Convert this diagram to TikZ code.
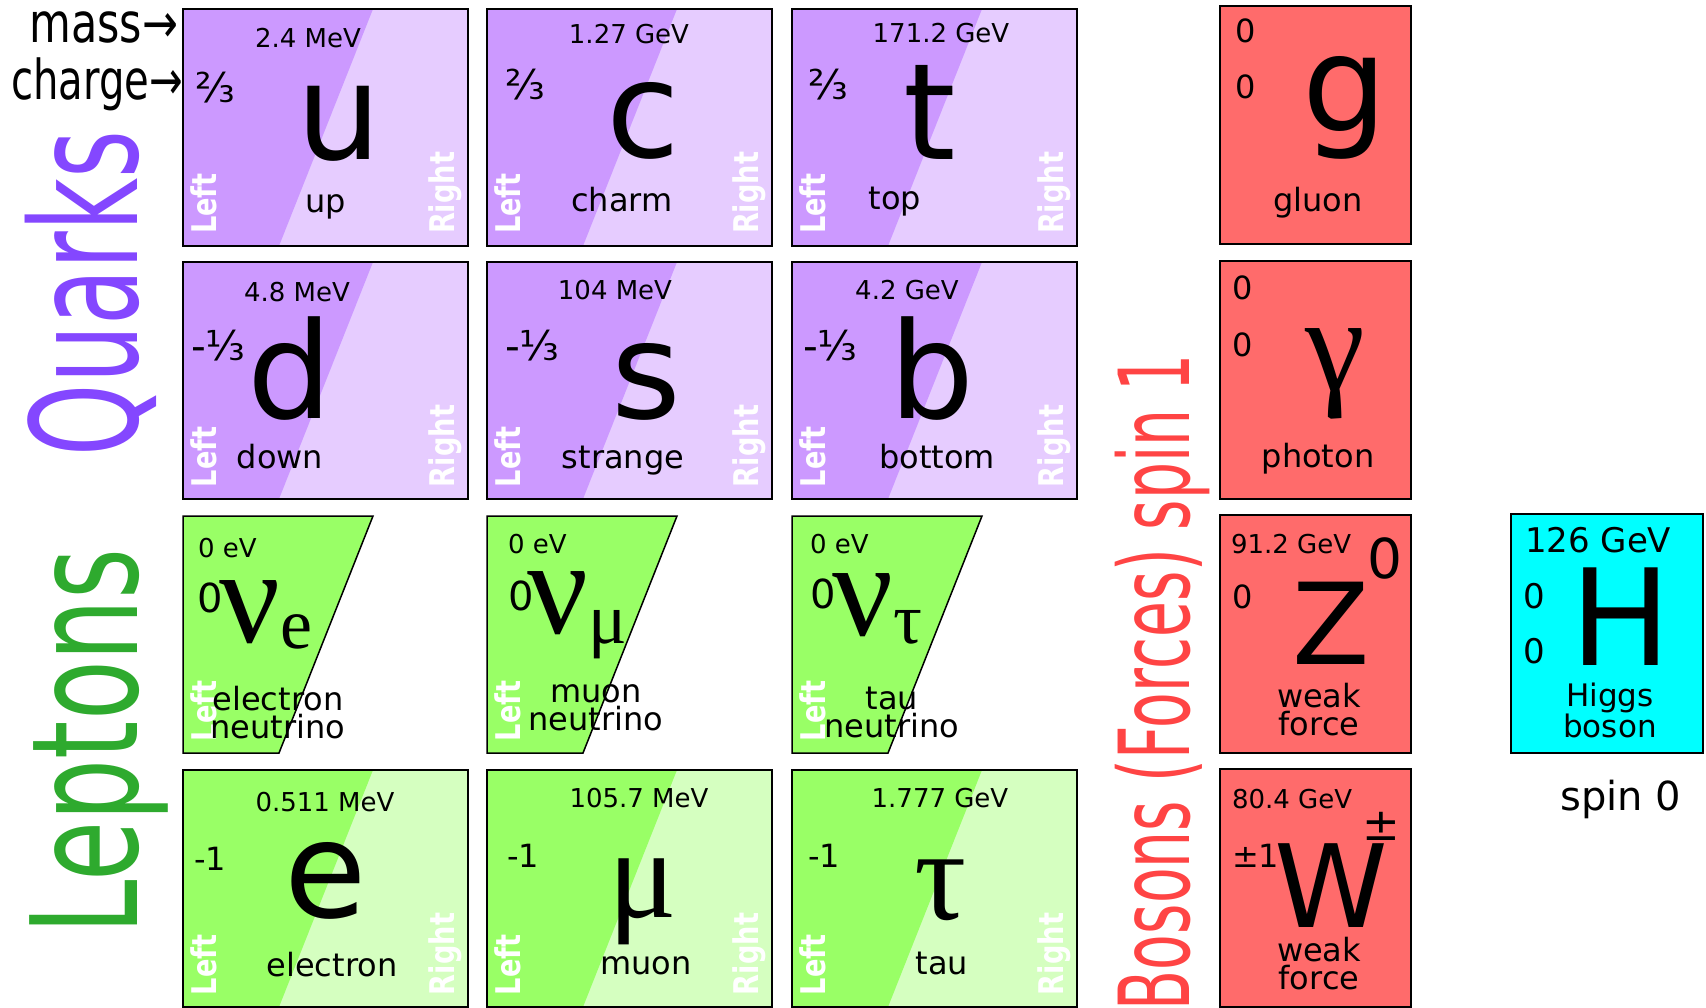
\documentclass[tikz,border=0pt]{standalone}
\usepackage{fontspec}
\setmainfont{DejaVu Sans}
\newfontfamily\grk{Liberation Serif}
\definecolor{qdark}{HTML}{CC99FF}
\definecolor{qlight}{HTML}{E6CCFF}
\definecolor{ldark}{HTML}{99FF66}
\definecolor{llight}{HTML}{D5FFC0}
\definecolor{bosonc}{HTML}{FF6B6B}
\definecolor{higgsc}{HTML}{00FFFF}
\definecolor{quarkc}{HTML}{8447FF}
\definecolor{leptonc}{HTML}{2EAA2E}
\definecolor{bosonl}{HTML}{FF4444}
\tikzset{
  every node/.style={inner sep=0pt, outer sep=0pt},
  frame/.style={draw=black, line width=1.5pt, minimum width=285pt, minimum height=237pt, anchor=north west},
  bframe/.style={draw=black, line width=1.5pt, fill=bosonc, minimum width=191pt, minimum height=238pt, anchor=north west},
  mass/.style={font=\fontsize{26}{26}\selectfont, anchor=base},
  massw/.style={font=\fontsize{26}{26}\selectfont, anchor=base west},
  chg/.style={font=\fontsize{32}{32}\selectfont, anchor=base west},
  nuchg/.style={font=\fontsize{40}{40}\selectfont, anchor=base west},
  frac/.style={font=\fontsize{41}{41}\selectfont, anchor=base west},
  sym/.style={font=\fontsize{134}{134}\selectfont, anchor=base},
  gsym/.style={font=\grk\fontsize{135}{135}\selectfont, anchor=base},
  nusym/.style={font=\grk\fontsize{135}{135}\selectfont, anchor=base west},
  pname/.style={font=\fontsize{32}{28}\selectfont, anchor=base},
  hand/.style={font=\bfseries\fontsize{34}{34}\selectfont, text=white, rotate=90, anchor=base west},
  biglab/.style={font=\fontsize{148}{148}\selectfont, rotate=90, anchor=base west},
}
\newcommand\hsq[1]{\scalebox{0.8}[1]{#1}}
\newcommand\fermbox[5]{%
  \fill[#5] (#2,#3) rectangle ++(285,237);
  \fill[#4] (#2,#3) -- ++(190,0) -- ++(-94,237) -- ++(-96,0) -- cycle;
  \node[frame] (#1) at (#2,#3) {};
  \node[hand] (#1-l) at ({#2+33},{#3+225}) {\hsq{Left}};
  \node[hand] (#1-r) at ({#2+271},{#3+225}) {\hsq{Right}};
}
\newcommand\nubox[3]{%
  \draw[fill=ldark, line width=1.5pt] (#2,#3) -- ++(190,0) -- ++(-94,237) -- ++(-96,0) -- cycle;
  \node[hand] (#1-l) at ({#2+33},{#3+225}) {\hsq{Left}};
}
\begin{document}
\begin{tikzpicture}[x=1pt,y=-1pt]
\useasboundingbox (0,0) rectangle (1706,1008);

% side labels
\node[biglab, text=quarkc] (quarks) at (137,456) {\scalebox{0.62}[1]{Quarks}};
\node[biglab, text=leptonc] (leptons) at (137,934) {\scalebox{0.66}[1]{Leptons}};
\node[biglab, text=bosonl, font=\fontsize{98}{98}\selectfont] (bosons) at (1189,1010) {\scalebox{0.595}[1]{Bosons (Forces) spin 1}};
\node[font=\fontsize{55}{55}\selectfont, anchor=base east] (masslab) at (178,43) {\scalebox{0.78}[1]{mass→}};
\node[font=\fontsize{55}{55}\selectfont, anchor=base east] (chglab) at (183,100) {\scalebox{0.73}[1]{charge→}};

% row 1 quarks
\fermbox{u}{183}{9}{qdark}{qlight}
\node[mass] (u-m) at (308,48) {2.4 MeV};
\node[frac] (u-q) at (195,103) {⅔};
\node[sym] (u-s) at (339,160) {u};
\node[pname] (u-n) at (326,213) {up};

\fermbox{c}{487}{9}{qdark}{qlight}
\node[mass] (c-m) at (629,44) {1.27 GeV};
\node[frac] (c-q) at (505,100) {⅔};
\node[sym] (c-s) at (643,158) {c};
\node[pname] (c-n) at (622,212) {charm};

\fermbox{t}{792}{9}{qdark}{qlight}
\node[mass] (t-m) at (941,43) {171.2 GeV};
\node[frac] (t-q) at (808,100) {⅔};
\node[sym] (t-s) at (930,160) {t};
\node[pname] (t-n) at (895,210) {top};

% row 2 quarks
\fermbox{d}{183}{262}{qdark}{qlight}
\node[mass] (d-m) at (297,302) {4.8 MeV};
\node[frac] (d-q) at (191,361) {-⅓};
\node[sym] (d-s) at (290,418) {d};
\node[pname] (d-n) at (280,468) {down};

\fermbox{s}{487}{262}{qdark}{qlight}
\node[mass] (s-m) at (615,300) {104 MeV};
\node[frac] (s-q) at (505,361) {-⅓};
\node[sym] (s-s) at (646,418) {s};
\node[pname] (s-n) at (623,468) {strange};

\fermbox{b}{792}{262}{qdark}{qlight}
\node[mass] (b-m) at (907,300) {4.2 GeV};
\node[frac] (b-q) at (803,361) {-⅓};
\node[sym] (b-s) at (932,418) {b};
\node[pname] (b-n) at (937,468) {bottom};

% row 3 neutrinos
\nubox{ne}{183}{516}
\node[massw] (ne-m) at (198,557) {0 eV};
\node[nuchg] (ne-q) at (197,612) {0};
\node[nusym] (ne-s) at (219,642) {ν\raisebox{-6pt}{\fontsize{72}{72}\selectfont e}};
\node[pname, align=center] (ne-n) at (278,738) {electron\\neutrino};

\nubox{nm}{487}{516}
\node[massw] (nm-m) at (508,553) {0 eV};
\node[nuchg] (nm-q) at (508,610) {0};
\node[nusym] (nm-s) at (527,633) {ν\raisebox{-10pt}{\fontsize{72}{72}\selectfont μ}};
\node[pname, align=center] (nm-n) at (596,730) {muon\\neutrino};

\nubox{nt}{792}{516}
\node[massw] (nt-m) at (810,553) {0 eV};
\node[nuchg] (nt-q) at (810,608) {0};
\node[nusym] (nt-s) at (832,635) {ν\raisebox{-8pt}{\fontsize{72}{72}\selectfont τ}};
\node[pname, align=center] (nt-n) at (892,737) {tau\\neutrino};

% row 4 leptons
\fermbox{e}{183}{770}{ldark}{llight}
\node[mass] (e-m) at (325,811) {0.511 MeV};
\node[chg] (e-q) at (194,870) {-1};
\node[sym] (e-s) at (326,917) {e};
\node[pname] (e-n) at (332,976) {electron};

\fermbox{mu}{487}{770}{ldark}{llight}
\node[mass] (mu-m) at (639,807) {105.7 MeV};
\node[chg] (mu-q) at (507,867) {-1};
\node[gsym, font=\grk\fontsize{128}{128}\selectfont] (mu-s) at (643,917) {μ};
\node[pname] (mu-n) at (646,974) {muon};

\fermbox{tau}{792}{770}{ldark}{llight}
\node[mass] (tau-m) at (940,807) {1.777 GeV};
\node[chg] (tau-q) at (808,867) {-1};
\node[gsym, font=\grk\fontsize{130}{130}\selectfont] (tau-s) at (941,919) {τ};
\node[pname] (tau-n) at (942,974) {tau};

% bosons
\node[bframe] (g) at (1220,6) {};
\node[chg] (g-m) at (1235,43) {0};
\node[chg] (g-q) at (1235,99) {0};
\node[sym] (g-s) at (1345,132) {g};
\node[pname] (g-n) at (1318,212) {gluon};

\node[bframe] (ga) at (1220,261) {};
\node[chg] (ga-m) at (1232,300) {0};
\node[chg] (ga-q) at (1232,357) {0};
\node[gsym] (ga-s) at (1335,390) {γ};
\node[pname] (ga-n) at (1318,467) {photon};

\node[bframe] (z) at (1220,515) {};
\node[massw] (z-m) at (1231,553) {91.2 GeV};
\node[chg] (z-q) at (1232,608) {0};
\node[sym, font=\fontsize{113}{113}\selectfont] (z-s) at (1331,664) {Z};
\node[font=\fontsize{55}{55}\selectfont, anchor=base west] (z-sup) at (1367,578) {0};
\node[pname, align=center] (z-n) at (1319,735) {weak\\force};

\node[bframe] (w) at (1220,769) {};
\node[massw] (w-m) at (1232,808) {80.4 GeV};
\node[chg] (w-q) at (1232,867) {±1};
\node[sym, font=\fontsize{115}{115}\selectfont] (w-s) at (1331,927) {W};
\node[font=\fontsize{45}{45}\selectfont, anchor=base] (w-sup) at (1381,840) {±};
\node[pname, align=center] (w-n) at (1319,989) {weak\\force};

% higgs
\node[draw=black, line width=1.5pt, fill=higgsc, minimum width=192pt, minimum height=239pt, anchor=north west] (h) at (1511,514) {};
\node[font=\fontsize{34}{34}\selectfont, anchor=base west] (h-m) at (1525,552) {126 GeV};
\node[font=\fontsize{34}{34}\selectfont, anchor=base west] (h-q) at (1523,608) {0};
\node[font=\fontsize{34}{34}\selectfont, anchor=base west] (h-sp) at (1523,663) {0};
\node[sym] (h-s) at (1621,665) {H};
\node[font=\fontsize{31}{28}\selectfont, align=center, anchor=base] (h-n) at (1610,737) {Higgs\\boson};
\node[font=\fontsize{40}{40}\selectfont, anchor=base] (spin0) at (1621,810) {spin 0};
\end{tikzpicture}
\end{document}
